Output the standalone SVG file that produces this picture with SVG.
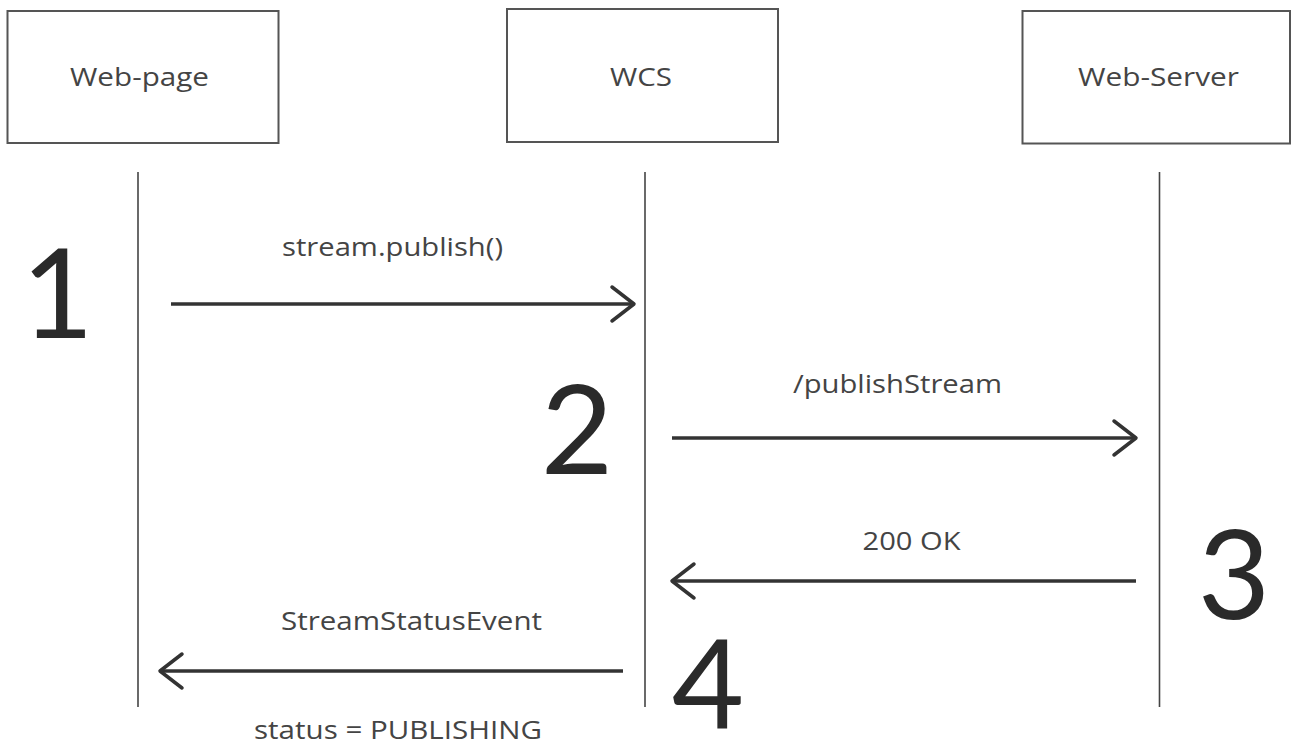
<svg xmlns="http://www.w3.org/2000/svg" width="1291" height="746" viewBox="0 0 1291 746">
<style>
.box{fill:#fff;stroke:#555;stroke-width:2}
.life{stroke:#444;stroke-width:1.6;fill:none}
.msg{stroke:#333;stroke-width:3.5;fill:none}
.head{stroke:#333;stroke-width:3.5;fill:none;stroke-linecap:round;stroke-linejoin:round}
.lbl{font-family:"Open Sans","Liberation Sans",sans-serif;font-size:26px;fill:#444}
.num{font-family:Lato,"DejaVu Sans",sans-serif;font-size:125px;fill:#2a2a2a}
</style>
<rect width="1291" height="746" fill="#fff"/>
<g id="node-webpage">
<rect class="box" x="7.5" y="11" width="271" height="132"/>
<text class="lbl" x="70" y="86" textLength="139" lengthAdjust="spacingAndGlyphs">Web-page</text>
</g>
<g id="node-wcs">
<rect class="box" x="507" y="9" width="271" height="133"/>
<text class="lbl" x="610" y="86" textLength="62" lengthAdjust="spacingAndGlyphs">WCS</text>
</g>
<g id="node-webserver">
<rect class="box" x="1022.5" y="11" width="267.5" height="132.5"/>
<text class="lbl" x="1078" y="86" textLength="161" lengthAdjust="spacingAndGlyphs">Web-Server</text>
</g>
<g id="lifelines">
<line class="life" x1="138" y1="172" x2="138" y2="707"/>
<line class="life" x1="645" y1="172" x2="645" y2="707"/>
<line class="life" x1="1159.5" y1="172" x2="1159.5" y2="707"/>
</g>
<g id="connectors">
<line class="msg" x1="171" y1="304" x2="633" y2="304"/>
<polyline class="head" points="612,287 634,304 612,321"/>
<line class="msg" x1="672" y1="438" x2="1135" y2="438"/>
<polyline class="head" points="1114,421 1136,438 1114,455"/>
<line class="msg" x1="1136" y1="581" x2="674" y2="581"/>
<polyline class="head" points="694,564 672,581 694,598"/>
<line class="msg" x1="623" y1="671" x2="162" y2="671"/>
<polyline class="head" points="182,654 160,671 182,688"/>
</g>
<g id="labels">
<text class="lbl" x="282" y="256" textLength="221" lengthAdjust="spacingAndGlyphs">stream.publish()</text>
<text class="lbl" x="793" y="393" textLength="209" lengthAdjust="spacingAndGlyphs">/publishStream</text>
<text class="lbl" x="862.5" y="550" textLength="98" lengthAdjust="spacingAndGlyphs">200 OK</text>
<text class="lbl" x="281" y="630" textLength="261" lengthAdjust="spacingAndGlyphs">StreamStatusEvent</text>
<text class="lbl" x="254" y="739" textLength="288" lengthAdjust="spacingAndGlyphs">status = PUBLISHING</text>
</g>
<g id="steps">
<text class="num" x="57.5" y="338" text-anchor="middle">1</text>
<text class="num" x="577" y="474" text-anchor="middle">2</text>
<text class="num" x="1234" y="619" text-anchor="middle">3</text>
<text class="num" x="708" y="728" text-anchor="middle">4</text>
</g>
</svg>
